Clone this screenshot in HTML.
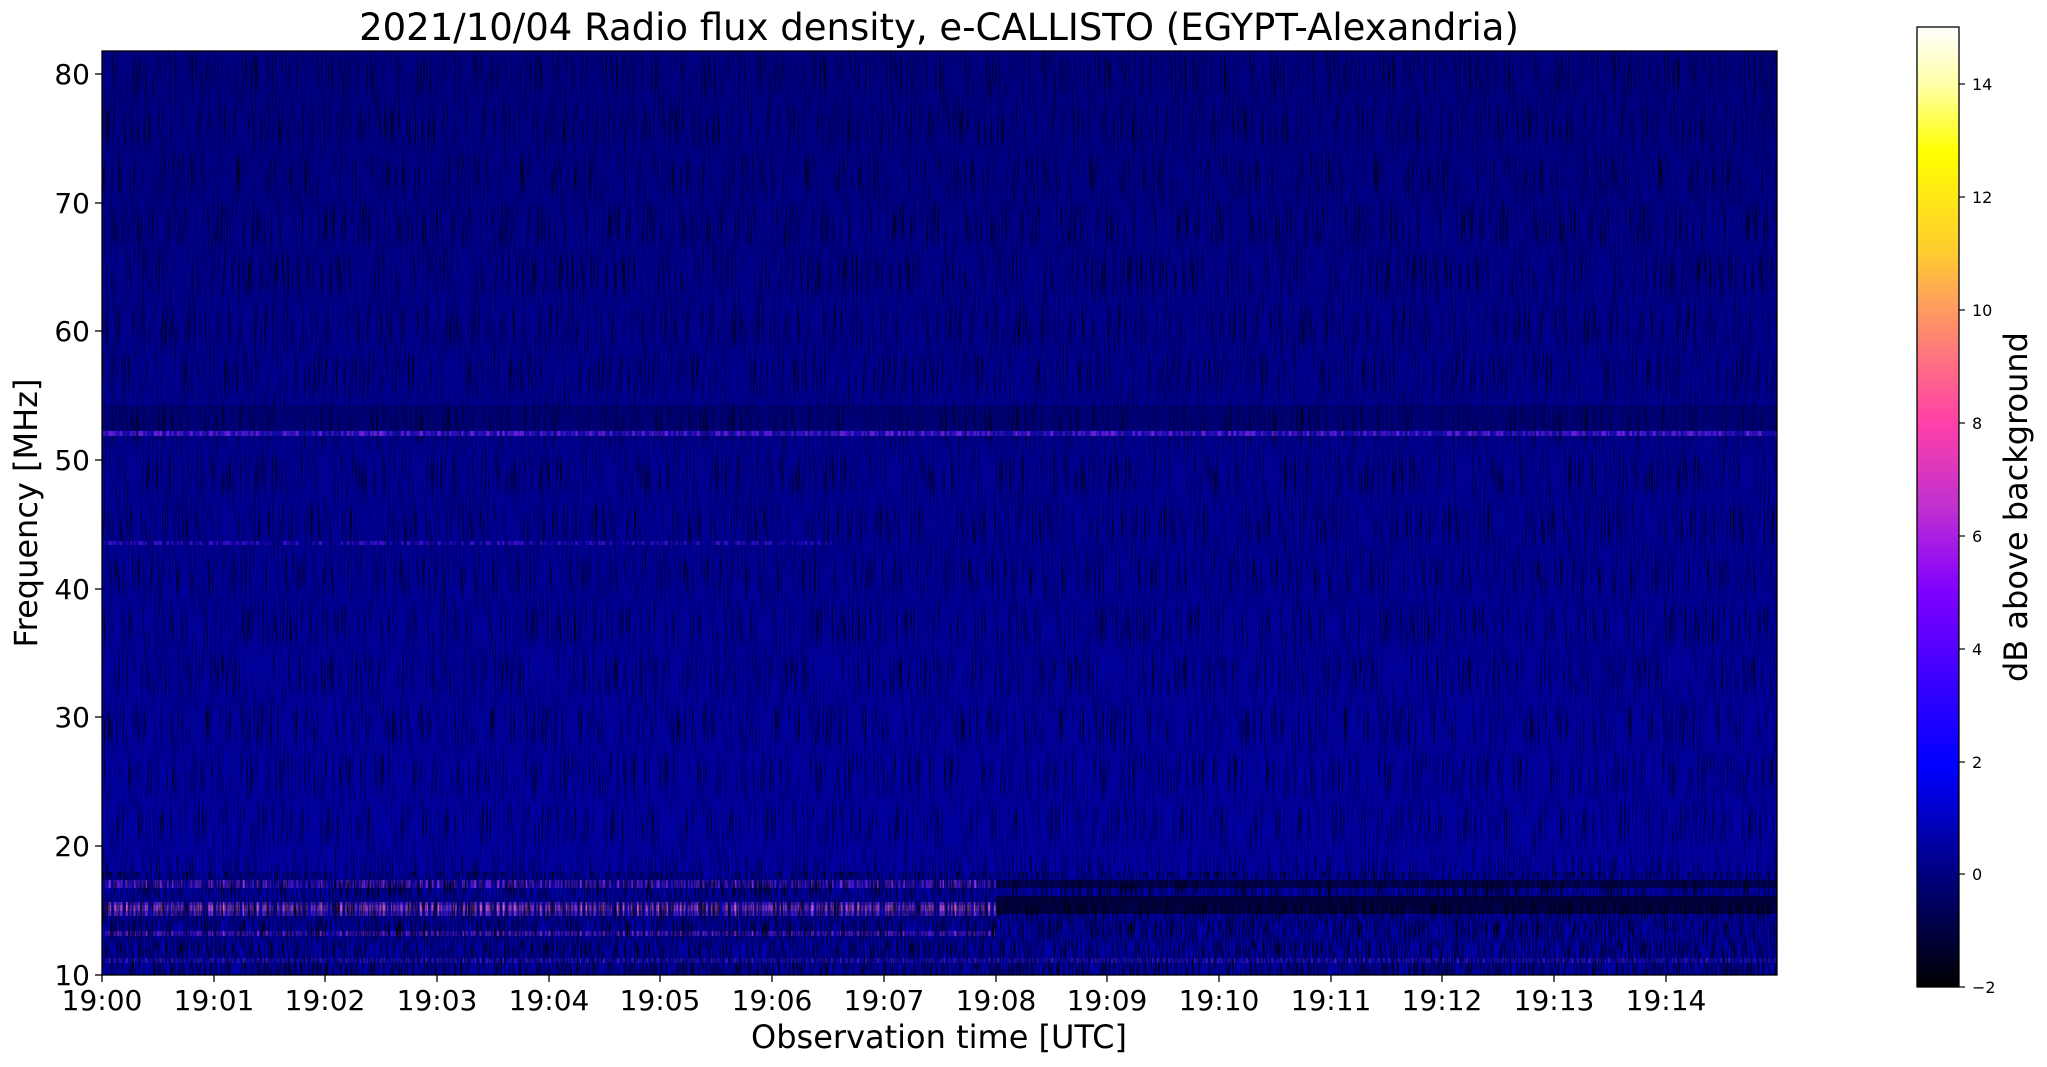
<!DOCTYPE html>
<html><head><meta charset="utf-8"><style>
html,body{margin:0;padding:0;background:#fff;}
svg{display:block;font-family:"DejaVu Sans","Liberation Sans",sans-serif;}
</style></head><body>
<svg width="2047" height="1067" viewBox="0 0 2047 1067" xmlns="http://www.w3.org/2000/svg">
<defs>
<filter id="streak" x="0" y="0" width="100%" height="100%">
<feTurbulence type="fractalNoise" baseFrequency="0.9 0.02" numOctaves="2" seed="3"/>
<feColorMatrix type="matrix" values="0 0 0 0 0  0 0 0 0 0  0 0 0 1.6 -0.55  0 0 0 -2.2 1.3"/>
</filter>
<filter id="streak2" x="0" y="0" width="100%" height="100%">
<feTurbulence type="fractalNoise" baseFrequency="0.7 0.05" numOctaves="2" seed="9"/>
<feColorMatrix type="matrix" values="0 0 0 0 0  0 0 0 0 0  0 0 0 0 0  0 0 0 2.6 -1.1"/>
</filter>
<filter id="dash" x="0" y="0" width="100%" height="100%">
<feTurbulence type="fractalNoise" baseFrequency="0.35 0.001" numOctaves="1" seed="5" result="n"/>
<feColorMatrix in="n" type="matrix" values="0 0 0 0 0  0 0 0 0 0  0 0 0 0 0  0 0 0 3 -1.2" result="m"/>
<feComposite in="SourceGraphic" in2="m" operator="in"/>
</filter>
<linearGradient id="cb" x1="0" y1="0" x2="0" y2="1">
<stop offset="0" stop-color="#ffffff"/>
<stop offset="0.06" stop-color="#ffffa8"/>
<stop offset="0.13" stop-color="#ffff00"/>
<stop offset="0.235" stop-color="#ffcc30"/>
<stop offset="0.294" stop-color="#ff9a60"/>
<stop offset="0.412" stop-color="#ff40a8"/>
<stop offset="0.5" stop-color="#c030d0"/>
<stop offset="0.588" stop-color="#8000ff"/>
<stop offset="0.706" stop-color="#2800ff"/>
<stop offset="0.77" stop-color="#0000ff"/>
<stop offset="0.882" stop-color="#000080"/>
<stop offset="1" stop-color="#000000"/>
</linearGradient>
<linearGradient id="bg" x1="0" y1="0" x2="0" y2="1">
<stop offset="0" stop-color="#000080"/>
<stop offset="0.5" stop-color="#000094"/>
<stop offset="0.85" stop-color="#0000a4"/>
<stop offset="1" stop-color="#0000aa"/>
</linearGradient>
<clipPath id="pc"><rect x="102" y="51" width="1675" height="924"/></clipPath>
</defs>

<g clip-path="url(#pc)">
<rect x="102" y="51" width="1675" height="924" fill="url(#bg)"/>
<rect x="102" y="51" width="1675" height="924" filter="url(#streak)"/>
<rect x="102" y="405" width="1675" height="25" fill="#000040" opacity="0.3"/>
<rect x="102" y="431" width="1675" height="5" fill="#2010c0" opacity="0.5"/>
<rect x="102" y="431" width="1675" height="5" fill="#7020e0" filter="url(#dash)"/>
<rect x="102" y="541" width="730" height="4" fill="#4010d0" filter="url(#dash)"/>
<rect x="102" y="872" width="1675" height="103" fill="#0000c8" opacity="0.35"/>
<rect x="102" y="880" width="894" height="8" fill="#9030f0" filter="url(#dash)"/>
<rect x="102" y="902" width="894" height="14" fill="#a040f0" filter="url(#dash)"/>
<rect x="102" y="905" width="894" height="6" fill="#f070c0" filter="url(#dash)" opacity="0.7"/>
<rect x="102" y="931" width="894" height="5" fill="#9030e0" filter="url(#dash)"/>
<rect x="102" y="958" width="1675" height="5" fill="#4020e0" filter="url(#dash)"/>
<rect x="996" y="880" width="781" height="8" fill="#000020" opacity="0.55"/>
<rect x="996" y="896" width="781" height="18" fill="#000010" opacity="0.6"/>
<rect x="102" y="872" width="1675" height="103" filter="url(#streak2)"/>
</g>
<rect x="102" y="51" width="1675" height="924" fill="none" stroke="#000" stroke-width="1.3"/>

<text x="939" y="40" font-size="37" text-anchor="middle">2021/10/04  Radio flux density, e-CALLISTO (EGYPT-Alexandria)</text>

<g font-size="28" text-anchor="end">
<g stroke="#000" stroke-width="1.3">
<line x1="95" y1="975" x2="102" y2="975"/><line x1="95" y1="846" x2="102" y2="846"/>
<line x1="95" y1="717" x2="102" y2="717"/><line x1="95" y1="589" x2="102" y2="589"/>
<line x1="95" y1="460" x2="102" y2="460"/><line x1="95" y1="331" x2="102" y2="331"/>
<line x1="95" y1="203" x2="102" y2="203"/><line x1="95" y1="74" x2="102" y2="74"/>
</g>
<text x="90" y="985">10</text><text x="90" y="856">20</text><text x="90" y="727">30</text>
<text x="90" y="599">40</text><text x="90" y="470">50</text><text x="90" y="341">60</text>
<text x="90" y="213">70</text><text x="90" y="84">80</text>
</g>
<text transform="translate(37,513) rotate(-90)" font-size="32" text-anchor="middle">Frequency [MHz]</text>

<g stroke="#000" stroke-width="1.3">
<line x1="102" y1="975" x2="102" y2="982"/><line x1="214" y1="975" x2="214" y2="982"/>
<line x1="325" y1="975" x2="325" y2="982"/><line x1="437" y1="975" x2="437" y2="982"/>
<line x1="549" y1="975" x2="549" y2="982"/><line x1="660" y1="975" x2="660" y2="982"/>
<line x1="772" y1="975" x2="772" y2="982"/><line x1="884" y1="975" x2="884" y2="982"/>
<line x1="996" y1="975" x2="996" y2="982"/><line x1="1107" y1="975" x2="1107" y2="982"/>
<line x1="1219" y1="975" x2="1219" y2="982"/><line x1="1331" y1="975" x2="1331" y2="982"/>
<line x1="1442" y1="975" x2="1442" y2="982"/><line x1="1554" y1="975" x2="1554" y2="982"/>
<line x1="1666" y1="975" x2="1666" y2="982"/>
</g>
<g font-size="28" text-anchor="middle">
<text x="102" y="1010">19:00</text><text x="214" y="1010">19:01</text><text x="325" y="1010">19:02</text>
<text x="437" y="1010">19:03</text><text x="549" y="1010">19:04</text><text x="660" y="1010">19:05</text>
<text x="772" y="1010">19:06</text><text x="884" y="1010">19:07</text><text x="996" y="1010">19:08</text>
<text x="1107" y="1010">19:09</text><text x="1219" y="1010">19:10</text><text x="1331" y="1010">19:11</text>
<text x="1442" y="1010">19:12</text><text x="1554" y="1010">19:13</text><text x="1666" y="1010">19:14</text>
</g>
<text x="939" y="1048" font-size="32" text-anchor="middle">Observation time [UTC]</text>

<rect x="1917" y="27" width="42" height="960" fill="url(#cb)" stroke="#000" stroke-width="1.3"/>
<g stroke="#000" stroke-width="1.2">
<line x1="1959" y1="987" x2="1965" y2="987"/><line x1="1959" y1="874" x2="1965" y2="874"/>
<line x1="1959" y1="762" x2="1965" y2="762"/><line x1="1959" y1="649" x2="1965" y2="649"/>
<line x1="1959" y1="536" x2="1965" y2="536"/><line x1="1959" y1="423" x2="1965" y2="423"/>
<line x1="1959" y1="310" x2="1965" y2="310"/><line x1="1959" y1="197" x2="1965" y2="197"/>
<line x1="1959" y1="84" x2="1965" y2="84"/>
</g>
<g font-size="16">
<text x="1972" y="993">−2</text><text x="1972" y="880">0</text><text x="1972" y="768">2</text>
<text x="1972" y="655">4</text><text x="1972" y="542">6</text><text x="1972" y="429">8</text>
<text x="1972" y="316">10</text><text x="1972" y="203">12</text><text x="1972" y="90">14</text>
</g>
<text transform="translate(2027,507) rotate(-90)" font-size="32" text-anchor="middle">dB above background</text>
</svg>
</body></html>
